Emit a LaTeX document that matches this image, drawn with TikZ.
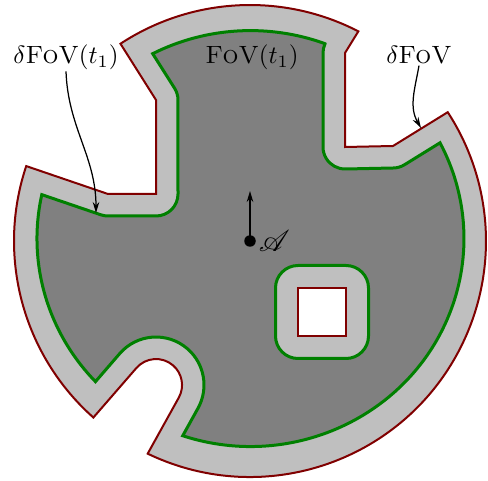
\documentclass[tikz,border=0pt]{standalone}
\usepackage{mathrsfs}
\usetikzlibrary{arrows.meta}
\definecolor{fovred}{RGB}{128,0,0}
\definecolor{fovgreen}{RGB}{0,128,0}
\begin{document}
\begin{tikzpicture}[x=0.4pt,y=0.4pt,
  redline/.style={draw=fovred, line width=0.8pt, line join=miter},
  greenline/.style={draw=fovgreen, line width=1.2pt},
  lbl/.style={inner sep=0.5pt, anchor=base},
  pointer/.style={-{Stealth[length=4.4pt,width=2.6pt]}, line width=0.5pt},
]
\useasboundingbox (0,0) rectangle (488,481);
\coordinate (C0) at (250,240);
% outer field of view (red)
\filldraw[fill=lightgray, redline]
  ([shift={(C0)}]62.67:236) arc[start angle=62.67, end angle=123.29, radius=236]
  -- (156,381) -- (156,287) -- (108,287)
  -- ([shift={(C0)}]161.49:236) arc[start angle=161.49, end angle=228.42, radius=236]
  -- (136.4,113.0) arc[start angle=139.05, end angle=-29.03, radius=26]
  -- ([shift={(C0)}]244.31:236) arc[start angle=244.31, end angle=393.08, radius=236]
  -- (393,335) -- (345,334) -- (345,428) -- cycle;
% inner region FoV(t1) (green)
\filldraw[fill=gray, greenline]
  (325.06,437.3) arc[start angle=69.55, end angle=117.26, x radius=213.5, y radius=208]
  -- (174.59,392.75) arc[start angle=32.29, end angle=0, radius=22]
  -- (178,287) arc[start angle=0, end angle=-90, radius=22]
  -- (108,265) arc[start angle=-90, end angle=-108.85, radius=22]
  -- (41.8,286.35) arc[start angle=167.8, end angle=223.45, x radius=213.5, y radius=208]
  -- (119.74,127.45) arc[start angle=139.05, end angle=-29.03, radius=48]
  -- (182.74,45.25) arc[start angle=251.5, end angle=387.4, x radius=213.5, y radius=208]
  -- (404.57,316.29) arc[start angle=-58.27, end angle=-88.81, radius=22]
  -- (345.46,312.0) arc[start angle=-88.81, end angle=-180, radius=22]
  -- (323,428) arc[start angle=180, end angle=155, radius=22]
  -- cycle;
% hole
\filldraw[fill=lightgray, greenline, rounded corners=9pt] (275.5,122.5) rectangle (368.5,215.5);
\filldraw[fill=white, redline, line width=1pt] (298,145) rectangle (346,193);
% labels
\node[lbl] (fovt) at (252,417.7) {\textsc{FoV}$(t_1)$};
\node[lbl] (dfovt) at (66,417.7) {$\delta$\textsc{FoV}$(t_1)$};
\node[lbl] (dfov) at (419,417.7) {$\delta$\textsc{FoV}};
\coordinate (tgt1) at (96,268);
\coordinate (tgt2) at (421,353);
\draw[pointer] (dfovt.south) to[out=-88,in=90] (tgt1);
\draw[pointer] (dfov.south) to[out=-100,in=120] (tgt2);
% point A
\coordinate (Atip) at (250,290);
\draw[pointer] (250,240) coordinate (Ac) -- (Atip);
\node[circle, fill=black, inner sep=0pt, minimum size=4.6pt] (A) at (Ac) {};
\node[anchor=west, inner sep=0.8pt, font=\large] (Alabel) at (A.east) {$\mathscr{A}$};
\end{tikzpicture}
\end{document}
